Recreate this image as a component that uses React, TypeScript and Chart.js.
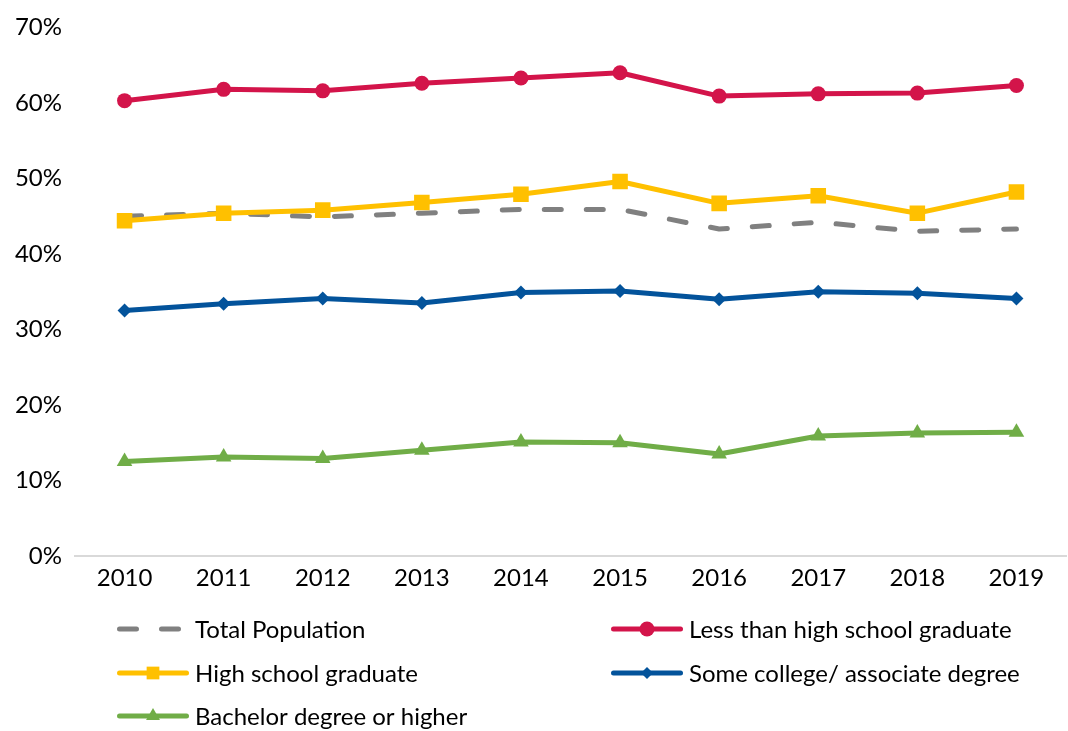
import React, { useEffect, useRef } from "react";
import { Chart, registerables } from "chart.js";

Chart.register(...registerables);

const years = ["2010", "2011", "2012", "2013", "2014", "2015", "2016", "2017", "2018", "2019"];
const totalPopulation = [45.0, 45.4, 44.9, 45.4, 45.9, 45.9, 43.3, 44.2, 43.0, 43.3];
const lessThanHighSchool = [60.3, 61.8, 61.6, 62.6, 63.3, 64.0, 60.9, 61.2, 61.3, 62.3];
const highSchoolGraduate = [44.4, 45.4, 45.8, 46.8, 47.9, 49.6, 46.7, 47.7, 45.4, 48.2];
const someCollege = [32.5, 33.4, 34.1, 33.5, 34.9, 35.1, 34.0, 35.0, 34.8, 34.1];
const bachelorOrHigher = [12.5, 13.1, 12.9, 14.0, 15.1, 15.0, 13.5, 15.9, 16.3, 16.4];
const yTicks = [0, 10, 20, 30, 40, 50, 60, 70];

const FONT = "Lato, 'Open Sans', sans-serif";

function drawMarker(ctx: CanvasRenderingContext2D, style: string, x: number, y: number, r: number, color: string) {
  ctx.save();
  ctx.fillStyle = color;
  ctx.beginPath();
  if (style === "circle") {
    ctx.arc(x, y, r, 0, Math.PI * 2);
  } else if (style === "rect") {
    const s = Math.SQRT1_2 * r;
    ctx.rect(x - s, y - s, 2 * s, 2 * s);
  } else if (style === "rectRot") {
    ctx.moveTo(x, y - r);
    ctx.lineTo(x + r, y);
    ctx.lineTo(x, y + r);
    ctx.lineTo(x - r, y);
    ctx.closePath();
  } else if (style === "triangle") {
    for (let i = 0; i < 3; i++) {
      const a = (i * 2 * Math.PI) / 3;
      const px = x + Math.sin(a) * r;
      const py = y - Math.cos(a) * r;
      if (i === 0) ctx.moveTo(px, py);
      else ctx.lineTo(px, py);
    }
    ctx.closePath();
  }
  ctx.fill();
  ctx.restore();
}

const gridLegend = {
  id: "gridLegend",
  afterDraw(chart: any, _args: any, opts: any) {
    const ctx: CanvasRenderingContext2D = chart.ctx;
    const { colX, rowY, lineLen, gap } = opts;
    chart.data.datasets.forEach((ds: any, i: number) => {
      const col = i % 2;
      const row = Math.floor(i / 2);
      const x0 = colX[col];
      const y = rowY[row];
      ctx.save();
      ctx.strokeStyle = ds.borderColor;
      ctx.lineWidth = ds.borderWidth;
      ctx.lineCap = "round";
      if (ds.borderDash && ds.borderDash.length) {
        ctx.setLineDash(ds.borderDash);
      }
      ctx.beginPath();
      ctx.moveTo(x0 + 2.5, y);
      ctx.lineTo(x0 + lineLen - 2.5, y);
      ctx.stroke();
      ctx.restore();
      if (ds.pointRadius > 0) {
        drawMarker(ctx, ds.pointStyle, x0 + lineLen / 2, y, ds.legendMarkerRadius ?? ds.pointRadius, ds.borderColor);
      }
      ctx.save();
      ctx.fillStyle = "#000";
      ctx.font = `24px ${FONT}`;
      ctx.textBaseline = "middle";
      ctx.textAlign = "left";
      ctx.fillText(ds.label, x0 + lineLen + gap, y + 1);
      ctx.restore();
    });
  },
};

export default function App() {
  const canvasRef = useRef<HTMLCanvasElement | null>(null);

  useEffect(() => {
    document.body.style.margin = "0";
    const canvas = canvasRef.current;
    if (!canvas) return;
    const chart = new Chart(canvas, {
      type: "line",
      data: {
        labels: years,
        datasets: [
          {
            label: "Total Population",
            data: totalPopulation,
            borderColor: "#808080",
            backgroundColor: "#808080",
            borderWidth: 5,
            borderDash: [17, 25],
            borderCapStyle: "round",
            pointRadius: 0,
            pointHoverRadius: 0,
            order: 5,
          } as any,
          {
            label: "Less than high school graduate",
            data: lessThanHighSchool,
            borderColor: "#D3144A",
            backgroundColor: "#D3144A",
            borderWidth: 5,
            pointStyle: "circle",
            pointRadius: 7.5,
            pointBorderWidth: 0,
            order: 1,
          } as any,
          {
            label: "High school graduate",
            data: highSchoolGraduate,
            borderColor: "#FFC000",
            backgroundColor: "#FFC000",
            borderWidth: 5,
            pointStyle: "rect",
            pointRadius: 11,
            legendMarkerRadius: 9,
            pointBorderWidth: 0,
            order: 2,
          } as any,
          {
            label: "Some college/ associate degree",
            data: someCollege,
            borderColor: "#03539B",
            backgroundColor: "#03539B",
            borderWidth: 5,
            pointStyle: "rectRot",
            pointRadius: 7,
            legendMarkerRadius: 6,
            pointBorderWidth: 0,
            order: 3,
          } as any,
          {
            label: "Bachelor degree or higher",
            data: bachelorOrHigher,
            borderColor: "#70AD47",
            backgroundColor: "#70AD47",
            borderWidth: 5,
            pointStyle: "triangle",
            pointRadius: 9,
            legendMarkerRadius: 8,
            pointBorderWidth: 0,
            order: 4,
          } as any,
        ],
      },
      options: {
        responsive: false,
        animation: false,
        layout: { autoPadding: false, padding: { left: 0, right: 2, top: 26, bottom: 0 } },
        plugins: {
          legend: { display: false },
          tooltip: { enabled: false },
          gridLegend: {
            colX: [117, 611],
            rowY: [629, 673, 716],
            lineLen: 72,
            gap: 6,
          },
        } as any,
        elements: { line: { tension: 0, borderJoinStyle: "round" } },
        scales: {
          x: {
            offset: true,
            grid: { display: false, drawTicks: false },
            border: { display: true, color: "#D9D9D9", width: 2 },
            ticks: {
              color: "#000",
              font: { family: FONT, size: 24 },
              padding: 8,
              maxRotation: 0,
            },
            afterFit(scale: any) {
              scale.height = 175;
              scale.paddingLeft = 0;
              scale.paddingRight = 0;
            },
          },
          y: {
            min: 0,
            max: 70,
            grid: { display: false, drawTicks: false },
            border: { display: false },
            afterBuildTicks(scale: any) {
              scale.ticks = yTicks.map((v) => ({ value: v }));
            },
            ticks: {
              color: "#000",
              font: { family: FONT, size: 24 },
              padding: 13,
              callback: (v: any) => `${v}%`,
            },
            afterFit(scale: any) {
              scale.width = 75;
            },
          },
        },
      } as any,
      plugins: [gridLegend],
    });
    return () => chart.destroy();
  }, []);

  return (
    <div style={{ position: "absolute", left: 0, top: 0, width: 1068, height: 731, background: "#fff" }}>
      <canvas ref={canvasRef} width={1068} height={731} />
    </div>
  );
}
